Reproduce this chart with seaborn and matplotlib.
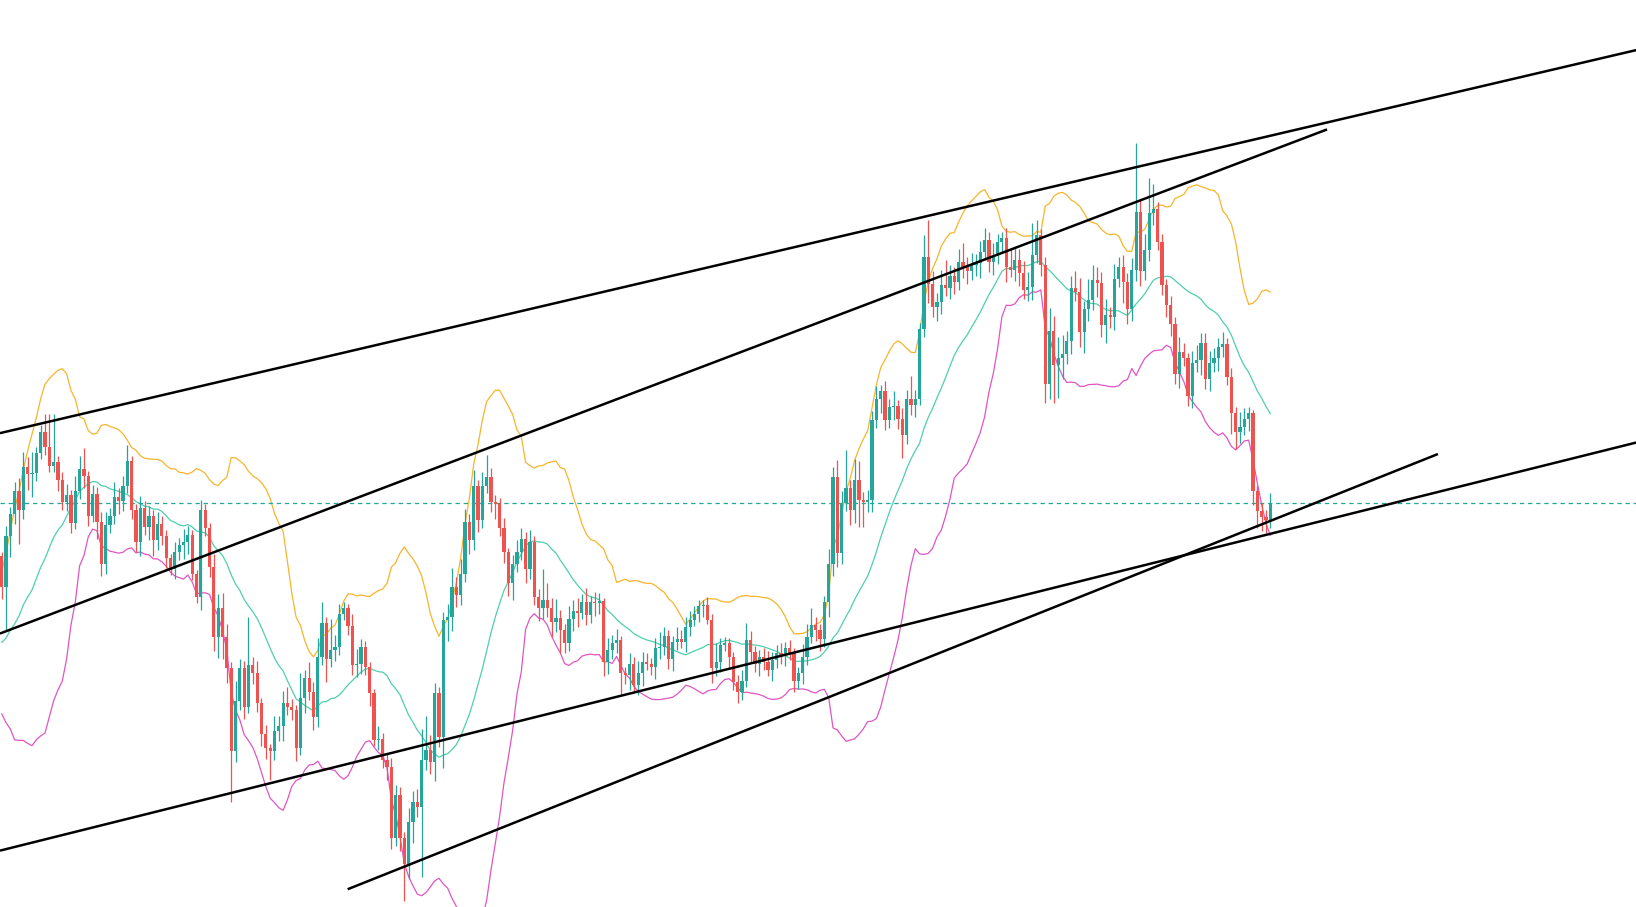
import numpy as np
import pandas as pd
import matplotlib
matplotlib.use("Agg")
import matplotlib.pyplot as plt
import seaborn as sns

# closes before the visible window (only used to warm up the 20-bar bands)
warmup_close = [300, 255, 310, 262, 240, 295, 312, 250, 268, 305,
                246, 258, 300, 318, 262, 236, 290, 275, 367]

# visible candles: close of each bar (open = previous close)
close = [
    338, 386, 408, 430, 411, 453, 446, 447, 466, 486,
    472, 454, 457, 440, 419, 426, 399, 430, 451, 444,
    406, 427, 400, 360, 397, 406, 424, 420, 434, 458,
    411, 381, 413, 395, 406, 383, 398, 386, 365, 355,
    371, 378, 381, 387, 350, 328, 411, 394, 357, 290,
    317, 290, 260, 180, 228, 260, 223, 263, 255, 226,
    197, 183, 180, 200, 204, 226, 223, 220, 183, 231,
    250, 237, 213, 271, 303, 269, 277, 280, 312, 317,
    300, 263, 264, 280, 261, 236, 191, 192, 172, 165,
    97, 138, 97, 72, 112, 132, 127, 172, 181, 170,
    236, 194, 306, 309, 338, 330, 350, 400, 383, 434,
    402, 434, 443, 419, 417, 394, 371, 341, 360, 371,
    384, 355, 381, 328, 317, 325, 317, 304, 308, 296,
    284, 307, 315, 313, 323, 311, 323, 322, 324, 266,
    277, 284, 287, 255, 253, 264, 244, 255, 266, 264,
    261, 279, 280, 291, 269, 285, 288, 285, 299, 306,
    312, 319, 320, 306, 260, 266, 282, 284, 271, 247,
    237, 248, 287, 275, 264, 271, 266, 258, 268, 274,
    272, 279, 274, 248, 255, 271, 290, 301, 296, 288,
    323, 360, 443, 370, 418, 432, 411, 440, 421, 419,
    421, 498, 518, 525, 498, 510, 511, 499, 483, 518,
    512, 518, 585, 654, 628, 606, 611, 627, 624, 636,
    630, 649, 644, 640, 646, 648, 659, 670, 649, 655,
    668, 672, 644, 641, 651, 638, 622, 625, 656, 675,
    646, 532, 583, 550, 557, 561, 573, 624, 620, 582,
    604, 613, 632, 629, 589, 598, 596, 633, 644, 630,
    604, 641, 697, 640, 660, 696, 700, 668, 627, 608,
    590, 542, 563, 557, 521, 552, 555, 571, 537, 552,
    557, 568, 570, 539, 504, 486, 491, 499, 504, 430,
    410, 405, 402, 418,
]

upper_wick = [
    4, 10, 6, 8, 12, 14, 9, 20, 6, 7,
    17, 31, 46, 6, 8, 10, 5, 14, 12, 20,
    5, 8, 6, 9, 12, 7, 14, 8, 10, 16,
    5, 6, 12, 7, 9, 5, 11, 8, 6, 4,
    10, 7, 12, 9, 5, 4, 10, 6, 5, 12,
    14, 15, 12, 6, 20, 9, 7, 46, 8, 12,
    5, 8, 4, 14, 10, 12, 16, 7, 5, 24,
    8, 16, 10, 18, 20, 6, 30, 12, 9, 6,
    4, 12, 14, 8, 6, 5, 4, 12, 6, 7,
    9, 10, 8, 6, 14, 10, 12, 30, 33, 15,
    10, 6, 8, 12, 18, 9, 14, 12, 8, 16,
    6, 14, 21, 9, 7, 6, 10, 4, 8, 12,
    10, 6, 11, 5, 8, 30, 16, 10, 18, 8,
    6, 12, 10, 12, 8, 14, 6, 10, 8, 3,
    12, 8, 10, 4, 6, 10, 7, 12, 9, 8,
    6, 10, 14, 8, 5, 6, 11, 8, 10, 9,
    7, 6, 5, 8, 6, 18, 7, 6, 5, 4,
    6, 10, 16, 8, 6, 6, 8, 10, 7, 8,
    10, 6, 8, 5, 6, 12, 12, 16, 8, 6,
    6, 14, 10, 16, 12, 37, 8, 20, 18, 8,
    10, 8, 12, 6, 10, 8, 14, 6, 10, 8,
    22, 8, 6, 21, 35, 12, 8, 14, 24, 10,
    8, 12, 18, 10, 12, 9, 10, 12, 8, 12,
    8, 6, 10, 18, 12, 10, 12, 14, 30, 14,
    6, 8, 22, 14, 20, 18, 10, 12, 16, 14,
    8, 20, 14, 12, 10, 16, 8, 14, 10, 12,
    8, 12, 66, 12, 16, 33, 24, 6, 8, 6,
    8, 6, 14, 8, 5, 12, 14, 10, 10, 12,
    10, 8, 12, 6, 8, 6, 14, 10, 6, 3,
    4, 8, 6, 10,
]

lower_wick = [
    12, 42, 20, 10, 32, 8, 15, 22, 8, 6,
    8, 6, 6, 10, 8, 9, 10, 6, 8, 12,
    10, 6, 16, 12, 10, 8, 8, 12, 10, 6,
    8, 10, 14, 8, 12, 16, 10, 8, 9, 6,
    10, 8, 14, 12, 6, 6, 12, 8, 10, 14,
    20, 21, 14, 48, 10, 8, 12, 6, 10, 8,
    12, 10, 27, 8, 10, 14, 8, 10, 12, 6,
    14, 8, 12, 10, 8, 22, 8, 10, 8, 6,
    8, 10, 12, 10, 8, 12, 6, 10, 8, 12,
    10, 8, 12, 35, 14, 20, 10, 67, 10, 12,
    18, 10, 30, 20, 14, 12, 10, 8, 14, 10,
    12, 8, 6, 10, 14, 8, 10, 12, 16, 8,
    8, 14, 10, 8, 12, 10, 8, 14, 10, 22,
    10, 8, 12, 14, 6, 10, 8, 12, 10, 14,
    12, 8, 10, 20, 8, 14, 8, 10, 12, 6,
    8, 12, 10, 8, 10, 12, 8, 6, 10, 8,
    6, 8, 10, 4, 14, 8, 10, 6, 12, 8,
    11, 8, 6, 10, 8, 12, 8, 6, 10, 8,
    8, 10, 6, 11, 8, 10, 8, 6, 10, 12,
    8, 14, 12, 13, 10, 8, 14, 12, 26, 24,
    10, 12, 8, 14, 10, 8, 12, 10, 22, 8,
    10, 12, 6, 8, 18, 10, 14, 12, 8, 10,
    12, 8, 10, 12, 8, 10, 14, 8, 10, 12,
    8, 10, 14, 6, 10, 12, 8, 10, 12, 8,
    10, 18, 14, 36, 31, 20, 10, 12, 8, 14,
    20, 12, 10, 14, 12, 18, 10, 12, 8, 20,
    14, 12, 10, 14, 8, 10, 12, 8, 10, 12,
    12, 10, 14, 8, 10, 12, 8, 14, 10, 12,
    8, 12, 10, 8, 20, 16, 10, 8, 12, 14,
    16, 14, 13, 8,
]

# drawn trend lines: (bar index, price) start and end
trend_x_start = [-0.4, -0.4, -0.4, 79.9]
trend_y_start = [485, 293, 85, 48]
trend_x_end = [377.5, 306.1, 377.5, 331.7]
trend_y_end = [852, 776, 476, 465]

up_color = "#26a69a"
down_color = "#ef5350"
band_colors = {"upper": "#f7b52c", "basis": "#4ecfae", "lower": "#e055c4"}

# Bollinger bands (20, 2)
all_close = pd.Series(warmup_close + close, dtype=float)
basis = all_close.rolling(20).mean()
dev = all_close.rolling(20).std(ddof=0)
n_warm = len(warmup_close)

df = pd.DataFrame({
    "bar": np.arange(len(close)),
    "open": all_close.shift(1).iloc[n_warm:].values,
    "close": close,
    "basis": basis.iloc[n_warm:].values,
    "upper": (basis + 2 * dev).iloc[n_warm:].values,
    "lower": (basis - 2 * dev).iloc[n_warm:].values,
})
df["high"] = df[["open", "close"]].max(axis=1) + upper_wick
df["low"] = df[["open", "close"]].min(axis=1) - lower_wick
df["color"] = np.where(df["close"] >= df["open"], up_color, down_color)

sns.set_style("white")
fig = plt.figure(figsize=(16.36, 9.07), dpi=100)
ax = fig.add_axes([0, 0, 1, 1])

bands = df.melt(id_vars="bar", value_vars=["upper", "basis", "lower"],
                var_name="band", value_name="price")
sns.lineplot(data=bands, x="bar", y="price", hue="band", palette=band_colors,
             linewidth=0.9, legend=False, ax=ax, zorder=2)

# candles
ax.vlines(df["bar"], df["low"], df["high"], colors=df["color"], linewidth=0.9, zorder=3)
body = (df["close"] - df["open"]).abs().clip(lower=1.2)
ax.bar(df["bar"], body, bottom=df[["open", "close"]].min(axis=1), width=0.74,
       color=df["color"], linewidth=0, zorder=3)

# last price line
ax.axhline(close[-1], color=up_color, linewidth=0.9, linestyle=(0, (3.5, 3)), zorder=2)

for xs, ys, xe, ye in zip(trend_x_start, trend_y_start, trend_x_end, trend_y_end):
    ax.plot([xs, xe], [ys, ye], color="black", linewidth=1.8,
            solid_capstyle="butt", zorder=4)

ax.set_xlim(-0.39, 377.45)
ax.set_ylim(31, 900)
ax.axis("off")

fig.savefig("out.png", dpi=100, facecolor="white")
